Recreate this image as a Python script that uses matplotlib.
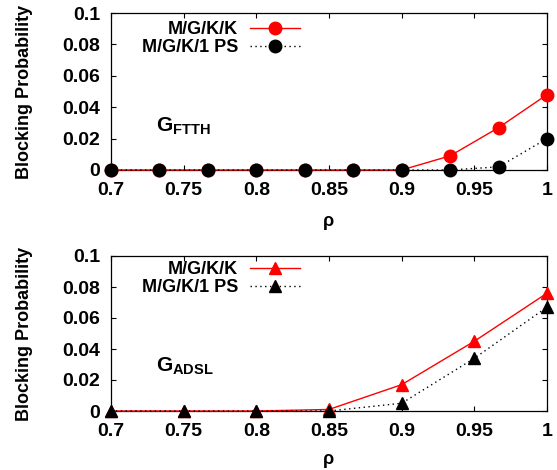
import matplotlib
matplotlib.use("Agg")
import matplotlib.pyplot as plt

plt.rcParams['font.family'] = ['Liberation Sans', 'DejaVu Sans']
plt.rcParams['font.weight'] = 'bold'
plt.rcParams['mathtext.fontset'] = 'custom'
plt.rcParams['mathtext.rm'] = 'Liberation Sans:bold'
plt.rcParams['mathtext.bf'] = 'Liberation Sans:bold'
plt.rcParams['mathtext.it'] = 'Liberation Sans:bold'

rho_ftth = [0.7, 0.7333, 0.7667, 0.8, 0.8333, 0.8667, 0.9, 0.9333, 0.9667, 1.0]
ftth_kk = [0, 0, 0, 0, 0, 0, 0, 0.009, 0.027, 0.048]
ftth_ps = [0, 0, 0, 0, 0, 0, 0, 0.0, 0.002, 0.020]

rho_adsl = [0.7, 0.75, 0.8, 0.85, 0.9, 0.95, 1.0]
adsl_kk = [0, 0, 0, 0.001, 0.017, 0.045, 0.076]
adsl_ps = [0, 0, 0, 0, 0.005, 0.034, 0.067]

labels = ["M/G/K/K", "M/G/K/1 PS"]
xticks = [0.7, 0.75, 0.8, 0.85, 0.9, 0.95, 1.0]
xticklabels = ["0.7", "0.75", "0.8", "0.85", "0.9", "0.95", "1"]
yticks = [0, 0.02, 0.04, 0.06, 0.08, 0.1]
yticklabels = ["0", "0.02", "0.04", "0.06", "0.08", "0.1"]

W, H = 557, 470
fig = plt.figure(figsize=(W / 100, H / 100), dpi=100)

def add_ax(l, t, r, b):
    return fig.add_axes([l / W, 1 - b / H, (r - l) / W, (b - t) / H])

ax1 = add_ax(111, 13, 547, 170)
ax2 = add_ax(111, 256, 547, 411)

def style(ax, xlab_y):
    ax.set_xlim(0.7, 1.0)
    ax.set_ylim(0, 0.1)
    ax.set_xticks(xticks)
    ax.set_xticklabels(xticklabels)
    ax.set_yticks(yticks)
    ax.set_yticklabels(yticklabels)
    ax.tick_params(direction='in', top=True, right=True, length=3.5, width=0.8,
                   labelsize=14)
    ax.tick_params(axis='x', pad=8.5)
    ax.tick_params(axis='y', pad=8)
    ax.set_ylabel("Blocking Probability", fontsize=13, fontweight='bold')
    ax.yaxis.set_label_coords(-0.178, 0.5)
    ax.set_xlabel("ρ", fontsize=13, fontweight='bold')
    ax.xaxis.set_label_coords(0.5, xlab_y)
    ax.xaxis.label.set_va('center')
    for s in ax.spines.values():
        s.set_linewidth(0.9)

ax1.plot(rho_ftth, ftth_kk, color='red', lw=1, marker='o', ms=9, label=labels[0], clip_on=False, zorder=3)
ax1.plot(rho_ftth, ftth_ps, color='black', lw=1, ls=(0, (1, 2.5)), marker='o', ms=9, label=labels[1], clip_on=False, zorder=4)
ax1.text(0.731, 0.0242, r"G$_{\mathrm{FTTH}}$", fontsize=15, fontweight='bold', va='baseline')

ax2.plot(rho_adsl, adsl_kk, color='red', lw=1, marker='^', ms=9, label=labels[0], clip_on=False, zorder=3)
ax2.plot(rho_adsl, adsl_ps, color='black', lw=1, ls=(0, (1, 2.5)), marker='^', ms=9, label=labels[1], clip_on=False, zorder=4)
ax2.text(0.731, 0.0252, r"G$_{\mathrm{ADSL}}$", fontsize=15, fontweight='bold', va='baseline')

style(ax1, -0.331)
style(ax2, -0.316)

for ax, top in ((ax1, 21), (ax2, 261)):
    leg = ax.legend(loc='upper right', bbox_to_anchor=(300 / W, 1 - top / H),
                    bbox_transform=fig.transFigure, frameon=False,
                    markerfirst=False, fontsize=13, handlelength=2.77,
                    labelspacing=0.05, handletextpad=0.66, borderaxespad=0,
                    borderpad=0)

fig.savefig("out.png", dpi=100)
